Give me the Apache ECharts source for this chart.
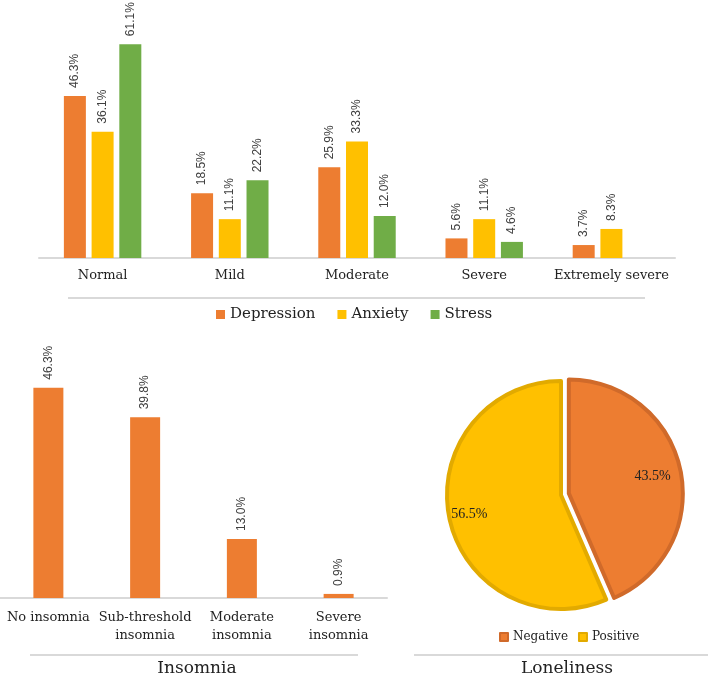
<!DOCTYPE html>
<html>
<head>
<meta charset="utf-8">
<script src="https://cdn.jsdelivr.net/npm/echarts@6/dist/echarts.min.js"></script>
<style>
html,body{margin:0;padding:0;background:#fff;}
#chart{width:708px;height:676px;}
</style>
</head>
<body>
<div id="chart"></div>
<script>
const categories = ['Normal', 'Mild', 'Moderate', 'Severe', 'Extremely severe'];
const seriesNames = ['Depression', 'Anxiety', 'Stress'];
const depression = [46.3, 18.5, 25.9, 5.6, 3.7];
const anxiety = [36.1, 11.1, 33.3, 11.1, 8.3];
const stress = [61.1, 22.2, 12.0, 4.6, null];
const insomniaCategories = ['No insomnia', 'Sub-threshold\ninsomnia', 'Moderate\ninsomnia', 'Severe\ninsomnia'];
const insomnia = [46.3, 39.8, 13.0, 0.9];
const lonelinessNames = ['Negative', 'Positive'];
const loneliness = [43.5, 56.5];

const ORANGE = '#ED7D31', YELLOW = '#FFC000', GREEN = '#70AD47';
const SERIF = '"DejaVu Serif", serif';
const SANS = '"Liberation Sans", Arial, sans-serif';
const fmt = p => (p.value == null ? '' : p.value.toFixed(1) + '%');

const valLabel = {
  show: true, position: 'top', rotate: 90, align: 'left', verticalAlign: 'middle',
  distance: 8, fontFamily: SANS, fontSize: 12, color: '#404040', formatter: fmt
};

const chart = echarts.init(document.getElementById('chart'), null, {renderer: 'canvas'});
const option = {
  animation: false,
  title: [
    {text: 'Insomnia', left: 192, top: 655, textAlign: 'center',
     textStyle: {fontFamily: SERIF, fontSize: 17, fontWeight: 'normal', color: '#222'}},
    {text: 'Loneliness', left: 562, top: 655, textAlign: 'center',
     textStyle: {fontFamily: SERIF, fontSize: 17, fontWeight: 'normal', color: '#222'}}
  ],
  legend: [
    {data: seriesNames, left: 211, top: 302, icon: 'rect', itemWidth: 9, itemHeight: 9, itemGap: 22,
     textStyle: {fontFamily: SERIF, fontSize: 15, color: '#222'}},
    {data: lonelinessNames, left: 494, top: 626, icon: 'rect', itemWidth: 8, itemHeight: 8, itemGap: 10,
     textStyle: {fontFamily: SERIF, fontSize: 12, color: '#222'}}
  ],
  grid: [
    {left: 39, right: 33, top: 13, bottom: 418},
    {left: 0, right: 321, top: 371, bottom: 78}
  ],
  xAxis: [
    {type: 'category', gridIndex: 0, data: categories,
     axisLine: {lineStyle: {color: '#d9d9d9', width: 2}}, axisTick: {show: false},
     axisLabel: {margin: 11, fontFamily: SERIF, fontSize: 13, color: '#222', interval: 0}},
    {type: 'category', gridIndex: 1, data: insomniaCategories,
     axisLine: {lineStyle: {color: '#d9d9d9', width: 2}}, axisTick: {show: false},
     axisLabel: {margin: 11, fontFamily: SERIF, fontSize: 13, color: '#222', lineHeight: 18, interval: 0}}
  ],
  yAxis: [
    {type: 'value', gridIndex: 0, min: 0, max: 70, show: false},
    {type: 'value', gridIndex: 1, min: 0, max: 50, show: false}
  ],
  graphic: [
    {type: 'line', shape: {x1: 68, y1: 298, x2: 645, y2: 298}, style: {stroke: '#d9d9d9', lineWidth: 2}},
    {type: 'line', shape: {x1: 30, y1: 655, x2: 358, y2: 655}, style: {stroke: '#d9d9d9', lineWidth: 2}},
    {type: 'line', shape: {x1: 414, y1: 655, x2: 708, y2: 655}, style: {stroke: '#d9d9d9', lineWidth: 2}}
  ],
  series: [
    {name: 'Depression', type: 'bar', xAxisIndex: 0, yAxisIndex: 0, data: depression, barWidth: 22, barGap: '26%',
     itemStyle: {color: ORANGE}, label: valLabel},
    {name: 'Anxiety', type: 'bar', xAxisIndex: 0, yAxisIndex: 0, data: anxiety, barWidth: 22, barGap: '26%',
     itemStyle: {color: YELLOW}, label: valLabel},
    {name: 'Stress', type: 'bar', xAxisIndex: 0, yAxisIndex: 0, data: stress, barWidth: 22, barGap: '26%',
     itemStyle: {color: GREEN}, label: valLabel},
    {name: 'Insomnia', type: 'bar', xAxisIndex: 1, yAxisIndex: 1, data: insomnia, barWidth: 30,
     itemStyle: {color: ORANGE}, label: valLabel},
    {name: 'Loneliness', type: 'pie', z: 2, center: [561, 495], radius: 114, startAngle: 90, clockwise: true,
     selectedMode: 'single', selectedOffset: 8,
     label: {show: false}, labelLine: {show: false},
     data: [
       {name: lonelinessNames[0], value: loneliness[0], selected: true,
        itemStyle: {color: ORANGE, borderColor: '#D06A2A', borderWidth: 4},
        select: {itemStyle: {color: ORANGE, borderColor: '#D06A2A', borderWidth: 4}}},
       {name: lonelinessNames[1], value: loneliness[1],
        itemStyle: {color: YELLOW, borderColor: '#E2AA00', borderWidth: 4}}
     ]},
    {name: 'LonelinessLabels', type: 'pie', z: 10, center: [561, 495], radius: [66, 115], startAngle: 90, clockwise: true,
     silent: true, legendHoverLink: false,
     itemStyle: {color: 'rgba(0,0,0,0)', borderWidth: 0},
     label: {show: true, position: 'inside', fontFamily: '"Liberation Serif", serif', fontSize: 14, color: '#222',
             formatter: p => p.value.toFixed(1) + '%'},
     labelLine: {show: false},
     data: [
       {name: lonelinessNames[0], value: loneliness[0]},
       {name: lonelinessNames[1], value: loneliness[1]}
     ]}
  ]
};
chart.setOption(option);
</script>
</body>
</html>
